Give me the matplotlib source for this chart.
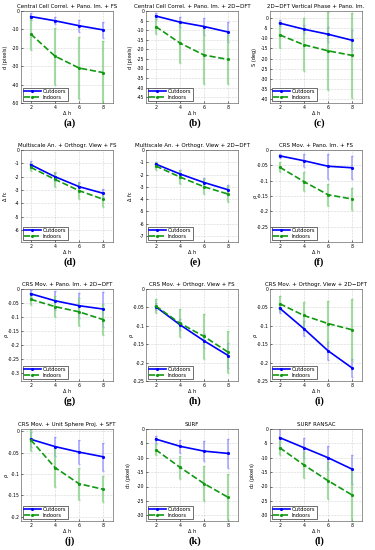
import matplotlib
matplotlib.use("Agg")
import matplotlib.pyplot as plt
import numpy as np

dh = [2, 4, 6, 8]

titles = [
    "Central Cell Correl. + Pano. Im. + FS",
    "Central Cell Correl. + Pano. Im. + 2D\u2212DFT",
    "2D\u2212DFT Vertical Phase + Pano. Im.",
    "Multiscale An. + Orthogr. View + FS",
    "Multiscale An. + Orthogr. View + 2D\u2212DFT",
    "CRS Mov. + Pano. Im. + FS",
    "CRS Mov. + Pano. Im. + 2D\u2212DFT",
    "CRS Mov. + Orthogr. View + FS",
    "CRS Mov. + Orthogr. View + 2D\u2212DFT",
    "CRS Mov. + Unit Sphere Proj. + SFT",
    "SURF",
    "SURF RANSAC",
]
ylabels = ["d (pixels)", "d (pixels)", "S (deg)", "\u0394 fc", "\u0394 fc", "\u03c1",
           "\u03c1", "\u03c1", "\u03c1", "\u03c1", "d$_1$ (pixels)", "d$_2$ (pixels)"]
letters = ["(a)", "(b)", "(c)", "(d)", "(e)", "(f)", "(g)", "(h)", "(i)", "(j)", "(k)", "(l)"]

out_mean = [
    [-3.0, -5.3, -8.0, -10.3],
    [-2.6, -5.8, -8.1, -11.0],
    [-2.5, -5.5, -8.0, -11.0],
    [-1.1, -2.0, -2.75, -3.25],
    [-1.15, -1.95, -2.65, -3.25],
    [-0.019, -0.035, -0.053, -0.058],
    [-0.017, -0.042, -0.060, -0.072],
    [-0.048, -0.097, -0.141, -0.181],
    [-0.052, -0.108, -0.168, -0.215],
    [-0.019, -0.036, -0.049, -0.060],
    [-3.5, -6.0, -7.7, -8.5],
    [-3.0, -6.5, -10.0, -14.0],
]
out_err = [
    [1.8, 2.0, 3.2, 4.2],
    [1.8, 2.8, 4.3, 5.3],
    [1.5, 2.0, 3.7, 5.0],
    [0.25, 0.3, 0.35, 0.3],
    [0.2, 0.3, 0.35, 0.4],
    [0.007, 0.021, 0.040, 0.037],
    [0.012, 0.035, 0.045, 0.063],
    [0.010, 0.015, 0.020, 0.033],
    [0.012, 0.020, 0.025, 0.025],
    [0.017, 0.022, 0.028, 0.032],
    [1.2, 2.2, 3.5, 5.0],
    [3.5, 3.5, 4.0, 5.0],
]
in_mean = [
    [-12.5, -24.5, -31.0, -33.5],
    [-8.1, -16.7, -23.0, -25.3],
    [-8.3, -13.2, -16.2, -18.5],
    [-1.3, -2.2, -3.05, -3.7],
    [-1.3, -2.2, -3.0, -3.6],
    [-0.056, -0.103, -0.146, -0.160],
    [-0.037, -0.063, -0.082, -0.110],
    [-0.046, -0.093, -0.129, -0.172],
    [-0.040, -0.072, -0.094, -0.111],
    [-0.020, -0.085, -0.123, -0.136],
    [-7.2, -13.3, -19.0, -23.8],
    [-6.5, -12.5, -18.0, -23.0],
]
in_err = [
    [8.5, 15.5, 17.0, 17.0],
    [4.0, 10.5, 15.0, 13.0],
    [6.4, 13.0, 19.3, 21.2],
    [0.3, 0.55, 0.6, 0.55],
    [0.3, 0.55, 0.6, 0.65],
    [0.017, 0.031, 0.036, 0.035],
    [0.021, 0.037, 0.049, 0.056],
    [0.018, 0.038, 0.060, 0.057],
    [0.021, 0.038, 0.061, 0.084],
    [0.026, 0.045, 0.037, 0.030],
    [2.0, 4.0, 6.0, 8.0],
    [2.5, 4.5, 6.5, 9.0],
]
ylims = [(-50, 0), (-48, 0), (-42, 3.5), (-6.9, 0), (-7.5, 0), (-0.3, 0),
         (-0.33, 0), (-0.25, 0), (-0.25, 0), (-0.21, 0.005), (-32, 0), (-32, 0)]
yticks = [
    np.arange(-50, 1, 10), np.arange(-45, 1, 5), np.arange(-40, 1, 5),
    np.arange(-6, 1, 1), np.arange(-7, 1, 1), np.arange(-0.25, 0.01, 0.05),
    np.arange(-0.3, 0.01, 0.05), np.arange(-0.25, 0.01, 0.05), np.arange(-0.25, 0.01, 0.05),
    np.arange(-0.2, 0.01, 0.05), np.arange(-30, 1, 5), np.arange(-30, 1, 5),
]

W, H = 375, 550
fig = plt.figure(figsize=(W / 100, H / 100), dpi=100)

col_x = [21, 146, 270]
row_y = [11, 150, 289, 429]
aw, ah = 92, 92

for i in range(12):
    r, c = divmod(i, 3)
    ax = fig.add_axes([col_x[c] / W, 1 - (row_y[r] + ah) / H, aw / W, ah / H])
    ax.errorbar(dh, out_mean[i], yerr=out_err[i], fmt="none", ecolor="#8c8cff",
                elinewidth=1.2, capsize=1.0, alpha=0.75, zorder=2)
    ax.errorbar(dh, in_mean[i], yerr=in_err[i], fmt="none", ecolor="#88d088",
                elinewidth=1.6, capsize=1.0, alpha=0.75, zorder=2)
    ax.plot(dh, out_mean[i], "-", color="#0000ff", lw=1.2, marker=".", ms=2.5,
            label="Outdoors", zorder=3)
    ax.plot(dh, in_mean[i], "--", color="#119911", lw=1.2, marker=".", ms=2.5,
            label="Indoors", zorder=3)
    ax.set_xlim(1.2, 8.8)
    ax.set_ylim(*ylims[i])
    ax.set_xticks(dh)
    ax.set_yticks(yticks[i])
    ax.set_yticklabels(["%g" % round(v, 3) if abs(v) > 1e-9 else "0" for v in yticks[i]])
    ax.tick_params(labelsize=3.3, length=1.5, width=0.4, pad=1.2, direction="in")
    ax.grid(True, ls=":", lw=0.4, color="#b0b0b0")
    for s in ax.spines.values():
        s.set_linewidth(0.4)
        s.set_color("#444444")
    ax.set_title(titles[i], fontsize=4.0, pad=2.5)
    ax.set_xlabel("\u0394 h", fontsize=3.6, labelpad=1.0)
    ax.set_ylabel(ylabels[i], fontsize=3.6)
    ax.yaxis.set_label_coords(-0.14, 0.5)
    leg = ax.legend(loc="lower left", fontsize=3.7, handlelength=3.2, borderpad=0.3,
                    labelspacing=0.15, handletextpad=0.4, borderaxespad=0.3,
                    frameon=True, fancybox=False, edgecolor="black", framealpha=1)
    leg.get_frame().set_linewidth(0.4)
    fig.text((col_x[c] + aw / 2 + 3) / W, 1 - (row_y[r] + ah + 20) / H, letters[i],
             ha="center", va="center", fontsize=7.5, fontweight="bold",
             family="Liberation Serif")

fig.savefig("out.png", dpi=100)
